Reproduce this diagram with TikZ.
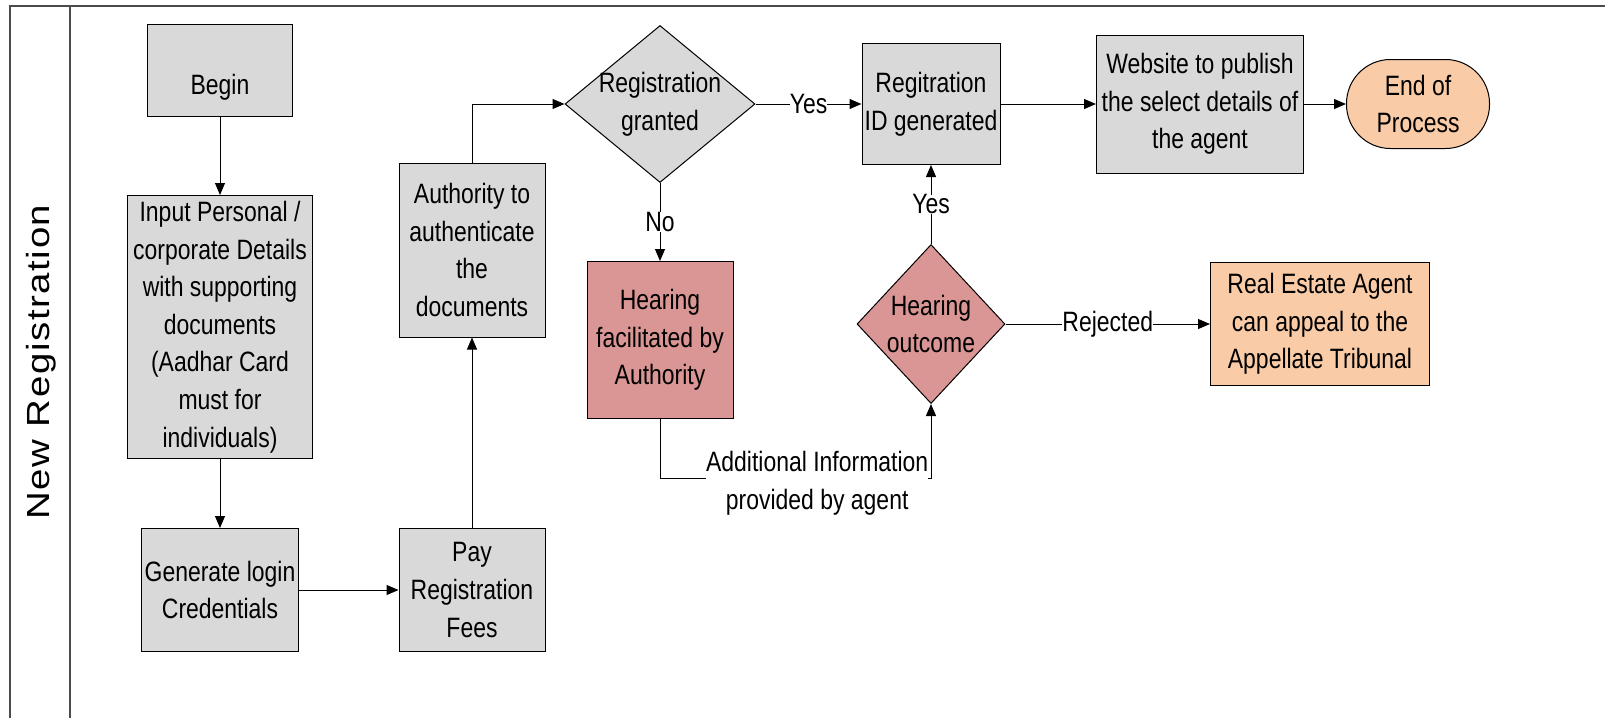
\documentclass[tikz,border=0pt]{standalone}
\usepackage{fontspec}
\setmainfont{Liberation Sans}
\newfontfamily\narrowfont[FakeStretch=0.82]{Liberation Sans}
\newfontfamily\lanefont[FakeStretch=1.2,LetterSpace=5]{Liberation Sans}
\usepackage{tikz}
\usetikzlibrary{shapes.geometric,positioning,calc}
\usetikzlibrary{arrows.meta}
\definecolor{boxgray}{RGB}{217,217,217}
\definecolor{hearingred}{RGB}{217,150,148}
\definecolor{peach}{RGB}{249,203,166}
\newcommand{\boxfont}{\narrowfont\fontsize{14}{18.8}\selectfont}
\tikzstyle{arrow} = [line width=0.5pt,->,>={Triangle[length=6pt,width=5pt]}]
\tikzstyle{process} = [rectangle, draw, line width=0.5pt, fill=boxgray, align=center, inner sep=1pt, font=\boxfont]
\tikzstyle{decision} = [diamond, draw, line width=0.5pt, inner sep=0pt]
\tikzstyle{lbl} = [fill=white, inner sep=0pt, align=center, font=\boxfont]

\begin{document}
\begin{tikzpicture}[x=0.5pt,y=-0.5pt]
			\useasboundingbox (0,0) rectangle (1605,718);
			
			% LANE
			
			\draw[black!70, line width=0.6pt] (10,718) -- (10,6) -- (1605,6);
			\draw[black!70, line width=0.6pt] (70,6) -- (70,718);
			\node[rotate=90, font=\lanefont\fontsize{16}{20}\selectfont] (lanetitle) at (41,362) {New Registration};
			
			% STEPS
			
			\node[process, minimum width=72.5pt, minimum height=46pt, text height=27pt, text depth=3pt] (begin) at (220,70) {Begin};
			\node[process, minimum width=92.5pt, minimum height=131.5pt] (input) at (220,327)
			{Input Personal /\\corporate Details\\with supporting\\documents\\(Aadhar Card\\must for\\individuals)};
			\node[process, minimum width=78.5pt, minimum height=61.5pt] (generate) at (220,590) {Generate login\\Credentials};
			\node[process, minimum width=73pt, minimum height=61.5pt] (pay) at (472,590) {Pay\\Registration\\Fees};
			\node[process, minimum width=73pt, minimum height=87pt] (authority) at (472,250) {Authority to\\authenticate\\the\\documents};
			\node[decision, fill=boxgray, minimum width=95pt, minimum height=78.5pt,
				label={[font=\boxfont, align=center]center:Registration\\granted}] (granted) at (660,104) {};
			\node[process, minimum width=69pt, minimum height=60.5pt] (regid) at (931,104) {Regitration\\ID generated};
			\node[process, minimum width=103.5pt, minimum height=69pt] (website) at (1200,104) {Website to publish\\the select details of\\the agent};
			\node[process, fill=peach, rounded corners=22pt, minimum width=71.5pt, minimum height=44.5pt] (endproc) at (1418,104) {End of\\Process};
			\node[process, fill=hearingred, minimum width=73pt, minimum height=78.5pt] (hearing) at (660,340) {Hearing\\facilitated by\\Authority};
			\node[decision, fill=hearingred, minimum width=74pt, minimum height=79.5pt,
				label={[font=\boxfont, align=center]center:Hearing\\outcome}] (outcome) at (931,324) {};
			\node[process, fill=peach, minimum width=109.5pt, minimum height=61.5pt] (appeal) at (1320,324) {Real Estate Agent\\can appeal to the\\Appellate Tribunal};
			
			% FLOW
			
			\draw[arrow] (begin) -- (input);
			\draw[arrow] (input) -- (generate);
			\draw[arrow] (generate) -- (pay);
			\draw[arrow] (pay) -- (authority);
			\draw[arrow] (authority.north) |- (granted.west);
			\draw[arrow] (granted.east) -- node[lbl] {Yes} (regid.west);
			\draw[arrow] (regid) -- (website);
			\draw[arrow] (website) -- (endproc);
			\draw[arrow] (granted.south) -- node[lbl] {No} (hearing.north);
			\draw[arrow] (outcome.north) -- node[lbl] {Yes} (regid.south);
			\draw[arrow] (outcome.east) -- node[lbl] {Rejected} (appeal.west);
			
			\coordinate (infoleft) at (660,478);
			\coordinate (inforight) at (931,478);
			\draw[arrow] (hearing.south) -- (infoleft) -- node[lbl, pos=0.58, yshift=-2.5pt] {Additional Information\\provided by agent} (inforight) -- (outcome.south);
			
\end{tikzpicture}
\end{document}
